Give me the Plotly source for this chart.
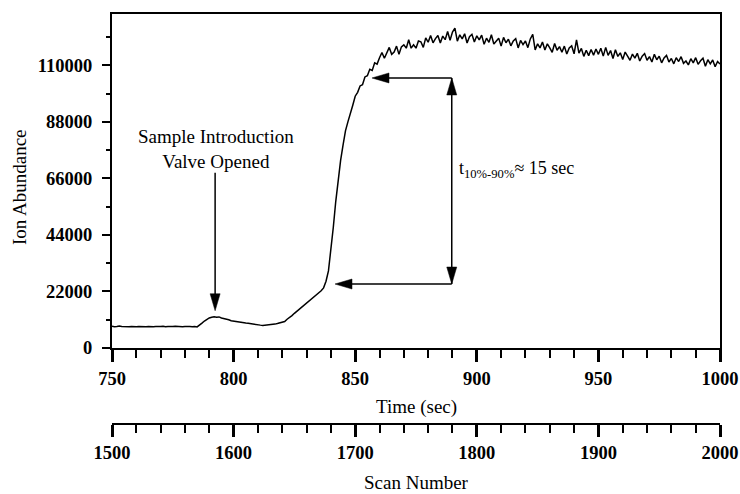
import plotly.graph_objects as go

# Ion abundance trace sampled once per second (2 scans per second)
time_s = list(range(750, 1001))
ion_abundance = [
    # 750-785 baseline
    8500, 8300, 8400, 8600, 8400, 8300, 8200, 8300, 8400, 8200,
    8300, 8400, 8300, 8200, 8300, 8400, 8300, 8300, 8400, 8300,
    8400, 8500, 8300, 8400, 8300, 8400, 8500, 8400, 8400, 8300,
    8400, 8500, 8400, 8300, 8400, 8200,
    # 786-800 valve opened
    8800, 9700, 10500, 11200, 11700, 12000, 12200, 12000, 12100, 11700,
    11500, 11200, 11000, 10600, 10400,
    # 801-820
    10300, 10100, 10000, 9900, 9700, 9600, 9400, 9300, 9200, 9000,
    8900, 8800, 8900, 8800, 9000, 9100, 9300, 9500, 9800, 10000,
    # 821-837
    10300, 11200, 11800, 12600, 13500, 14300, 15200, 16000, 16800, 17600,
    18300, 19000, 19800, 20600, 21400, 22300, 23400,
    # 838-860 steep rise
    26000, 30000, 38000, 47000, 57000, 66000, 73000, 79000, 84500, 88000,
    91000, 94500, 98000, 99500, 102000, 102500, 105500, 106000, 108500, 108000,
    111000, 110500, 113000,
    # 861-900
    115000, 112800, 115200, 117000, 114300, 115200, 117500, 114300, 117200, 118000,
    116700, 120000, 116700, 118000, 116700, 119500, 119200, 117000, 120700, 119000,
    121600, 118800, 120400, 121600, 118700, 121400, 120000, 123200, 119800, 123000,
    124500, 119400, 121900, 120300, 122300, 118700, 121200, 122100, 119100, 121500,
    # 901-950
    119900, 121800, 118200, 120600, 119000, 121900, 118300, 119700, 120600, 117500,
    120900, 118800, 120200, 117600, 119500, 120400, 116800, 119700, 118100, 119500,
    116900, 120300, 122100, 116000, 118400, 116800, 119100, 116000, 118400, 116800,
    115100, 118500, 115900, 117300, 115100, 117500, 114400, 116800, 117600, 114500,
    119900, 114800, 116600, 113500, 115900, 113800, 116200, 114000, 116400, 114300,
    # 951-1000
    116700, 113600, 117000, 113900, 115800, 112700, 116100, 113500, 114900, 112300,
    115200, 113600, 112000, 114400, 112800, 114700, 111700, 113600, 114600, 112000,
    113400, 111300, 114300, 112200, 113600, 111000, 112900, 113900, 111300, 112700,
    110600, 113000, 111500, 113400, 110800, 111700, 110200, 112600, 111000, 113000,
    110400, 111800, 112800, 109700, 112200, 110600, 112100, 109500, 111500, 110500,
]

time_ticks = [750, 800, 850, 900, 950, 1000]
scan_ticks = [1500, 1600, 1700, 1800, 1900, 2000]
abundance_ticks = [0, 22000, 44000, 66000, 88000, 110000]

# Annotation anchors (data units)
valve_time, valve_tip, valve_tail = 792.4, 14500, 68200
rise_marker_time = 889.7
rise_high, rise_low = 105100, 24900
rise_high_tip_time, rise_low_tip_time = 856.9, 841.7

FONT = "Liberation Serif"
BLACK = "black"

fig = go.Figure()
fig.add_trace(go.Scatter(
    x=time_s, y=ion_abundance, mode="lines",
    line=dict(color=BLACK, width=1.5), showlegend=False, hoverinfo="skip",
))
# invisible trace to carry the scan-number axis
fig.add_trace(go.Scatter(
    x=[scan_ticks[0], scan_ticks[-1]], y=[0, 0], xaxis="x2", yaxis="y",
    mode="lines", line=dict(width=0), opacity=0, showlegend=False, hoverinfo="skip",
))

tickfont = dict(family=FONT, size=18.5, color=BLACK, weight="bold")

fig.update_layout(
    width=740, height=494,
    margin=dict(l=112, r=20, t=14, b=70, autoexpand=False),
    paper_bgcolor="white", plot_bgcolor="white",
    font=dict(family=FONT, color=BLACK),
    xaxis=dict(
        domain=[0, 1], anchor="y", range=[750, 1000], automargin=False,
        tickvals=time_ticks, ticktext=[str(v) for v in time_ticks],
        ticks="outside", ticklen=12, tickwidth=3, tickcolor=BLACK,
        minor=dict(dtick=10, tick0=750, ticks="outside", ticklen=8, tickwidth=2,
                   tickcolor=BLACK, showgrid=False),
        showline=True, linecolor=BLACK, linewidth=2, mirror=True,
        showgrid=False, zeroline=False, tickfont=tickfont, ticklabelstandoff=1,
    ),
    xaxis2=dict(
        overlaying="x", anchor="free", position=0, side="bottom", range=[1500, 2000],
        automargin=False,
        tickvals=scan_ticks, ticktext=[str(v) for v in scan_ticks],
        ticks="outside", ticklen=12, tickwidth=3, tickcolor=BLACK,
        minor=dict(dtick=20, tick0=1500, ticks="outside", ticklen=8, tickwidth=2,
                   tickcolor=BLACK, showgrid=False),
        showline=True, linecolor=BLACK, linewidth=2,
        showgrid=False, zeroline=False, tickfont=tickfont, ticklabelstandoff=0,
    ),
    yaxis=dict(
        domain=[76 / 410, 1], range=[0, 130000], automargin=False,
        tickvals=abundance_ticks, ticktext=[str(v) for v in abundance_ticks],
        ticks="outside", ticklen=8, tickwidth=2, tickcolor=BLACK,
        minor=dict(dtick=11000, tick0=0, ticks="outside", ticklen=4, tickwidth=2,
                   tickcolor=BLACK, showgrid=False),
        showline=True, linecolor=BLACK, linewidth=2, mirror=True,
        showgrid=False, zeroline=False, tickfont=tickfont, ticklabelstandoff=6,
    ),
)

# axis titles
title_font = dict(family=FONT, size=19, color=BLACK)
fig.add_annotation(text="Time (sec)", xref="paper", yref="paper", x=0.5, y=(424 - 407) / 410,
                   showarrow=False, font=title_font, xanchor="center", yanchor="middle")
fig.add_annotation(text="Scan Number", xref="paper", yref="paper", x=0.5, y=(424 - 483) / 410,
                   showarrow=False, font=title_font, xanchor="center", yanchor="middle")
fig.add_annotation(text="Ion Abundance", xref="paper", yref="paper", x=(19 - 112) / 608,
                   y=(424 - 187) / 410, textangle=-90, showarrow=False, font=title_font,
                   xanchor="center", yanchor="middle")

# valve annotation
fig.add_annotation(text="Sample Introduction<br>Valve Opened", x=792.8, y=77400,
                   showarrow=False, font=title_font, xanchor="center", yanchor="middle")

fig.add_annotation(text="t<sub>10%-90%</sub>≈ 15 sec", x=891.9, y=69400,
                   showarrow=False, font=dict(family=FONT, size=18, color=BLACK),
                   xanchor="left", yanchor="middle")

line_style = dict(color=BLACK, width=1.5)


def arrow_line(x0, y0, x1, y1):
    fig.add_shape(type="line", xref="x", yref="y", x0=x0, y0=y0, x1=x1, y1=y1,
                  line=line_style)


def arrow_head(x, y, direction, length=17, half_width=5):
    # triangle with its tip at (x, y); offsets are in pixels, positive y is up
    paths = {
        "down": f"M0,0 L{-half_width},{length} L{half_width},{length} Z",
        "up": f"M0,0 L{-half_width},{-length} L{half_width},{-length} Z",
        "left": f"M0,0 L{length},{half_width} L{length},{-half_width} Z",
    }
    fig.add_shape(type="path", xref="x", yref="y", xsizemode="pixel", ysizemode="pixel",
                  xanchor=x, yanchor=y, path=paths[direction],
                  fillcolor=BLACK, line=dict(color=BLACK, width=0.5))


# valve-opened arrow
arrow_line(valve_time, valve_tail, valve_time, valve_tip + 3000)
arrow_head(valve_time, valve_tip, "down")

# 10%-90% rise-time markers
arrow_line(rise_marker_time, rise_high, rise_marker_time, rise_low)
arrow_head(rise_marker_time, rise_high, "up")
arrow_head(rise_marker_time, rise_low, "down")
arrow_line(rise_marker_time, rise_high, rise_high_tip_time + 3, rise_high)
arrow_head(rise_high_tip_time, rise_high, "left")
arrow_line(rise_marker_time, rise_low, rise_low_tip_time + 3, rise_low)
arrow_head(rise_low_tip_time, rise_low, "left")

fig.write_html("out.html")
